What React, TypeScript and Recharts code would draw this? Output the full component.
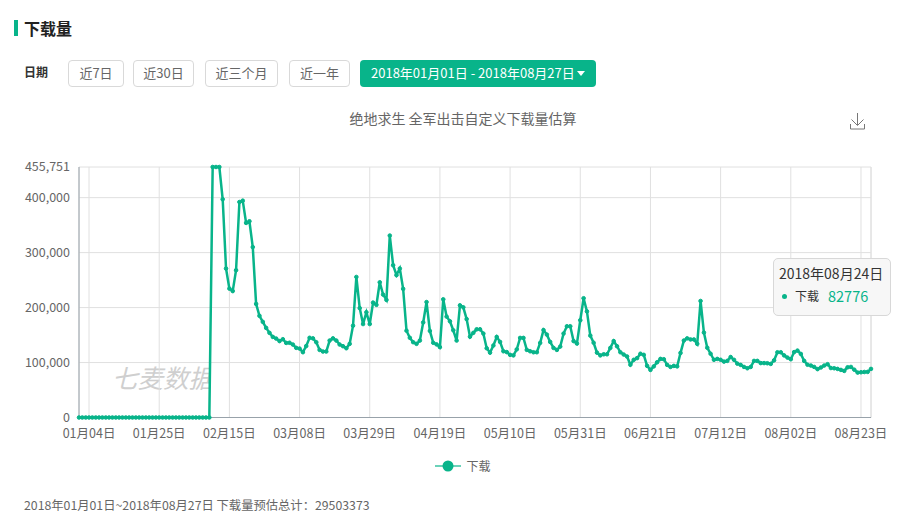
import React from "react";
import { LineChart, Line, XAxis, YAxis, CartesianGrid, Tooltip, Legend, ReferenceLine } from "recharts";

const GREEN = "#08b48a";
const FONT = '"Noto Sans CJK SC", "Noto Sans", sans-serif';

const MONTH_DAYS = [31, 28, 31, 30, 31, 30, 31, 26];

const downloads = [
  0, 0, 0, 0, 0, 0, 0, 0, 0, 0,
  0, 0, 0, 0, 0, 0, 0, 0, 0, 0,
  0, 0, 0, 0, 0, 0, 0, 0, 0, 0,
  0, 0, 0, 0, 0, 0, 0, 0, 0, 0,
  455751, 455751, 455751, 397000, 271000, 234500, 230000, 268000, 392000, 394500,
  354000, 357000, 310000, 206600, 185000, 174000, 163000, 154000, 146600, 143600,
  139000, 142400, 135700, 136000, 132700, 126700, 125400, 118800, 130000, 145000,
  144000, 137000, 123000, 120000, 120000, 140000, 144000, 140000, 132700, 129700,
  126000, 134000, 167000, 255700, 199000, 170000, 191500, 170000, 209000, 205000,
  246000, 223600, 214000, 331000, 277000, 259000, 271000, 234000, 158000, 145000,
  137000, 134000, 140000, 173000, 210000, 157500, 136000, 133000, 128000, 215000,
  183600, 175000, 158700, 140000, 204000, 200500, 179000, 147000, 154000, 160500,
  160500, 152700, 126000, 118000, 131000, 146600, 137500, 120500, 119000, 114000,
  113000, 124000, 144800, 144800, 123000, 120500, 118700, 118700, 135700, 159000,
  150800, 137500, 126600, 123000, 129000, 152700, 166000, 166000, 139000, 134500,
  177000, 217000, 193000, 149000, 136000, 118000, 113000, 115000, 115000, 126600,
  139000, 129600, 118700, 114500, 111000, 96000, 105000, 108000, 116000, 114000,
  94000, 86600, 93000, 100500, 106600, 106000, 95700, 92000, 93900, 93000,
  117500, 140000, 144000, 142000, 142000, 134000, 212000, 154500, 127000, 116000,
  105000, 106600, 105000, 101700, 103000, 110000, 105000, 98000, 95700, 92000,
  89600, 92000, 103000, 103000, 99000, 99000, 98700, 97500, 104000, 118700,
  118700, 113000, 109000, 106000, 119000, 121700, 115700, 103000, 96000, 94500,
  92000, 88000, 91000, 94500, 97000, 90000, 89600, 88400, 86600, 84800,
  91400, 92000, 87000, 81700, 82300, 82776, 83000, 88400,
];

const xTicks = [
  "01月04日", "01月25日", "02月15日", "03月08日", "03月29日", "04月19日",
  "05月10日", "05月31日", "06月21日", "07月12日", "08月02日", "08月23日",
];
const yTicks = [0, 100000, 200000, 300000, 400000, 455751];

const rangeButtons = ["近7日", "近30日", "近三个月", "近一年"];
const buttonLefts = [68, 133, 205, 289];
const buttonWidths = [56, 61, 73, 61];

const dates = MONTH_DAYS.flatMap((len, m) =>
  Array.from({ length: len }, (_, d) => {
    const mm = String(m + 1).padStart(2, "0");
    const dd = String(d + 1).padStart(2, "0");
    return `${mm}月${dd}日`;
  })
);

const chartData = downloads.map((value, i) => ({ date: dates[i], value }));

function TipContent({ payload, label }: any) {
  if (!payload || !payload.length) return null;
  return (
    <div
      style={{
        boxSizing: "border-box",
        width: 118,
        height: 58,
        background: "#f7f7f7",
        border: "1px solid #d8d8d8",
        borderRadius: 5,
        padding: "4px 0 0 5px",
        fontFamily: FONT,
        color: "#333",
        whiteSpace: "nowrap",
      }}
    >
      <div style={{ fontSize: 14, lineHeight: "20px" }}>2018年{label}</div>
      <div style={{ display: "flex", alignItems: "center", marginTop: 3, lineHeight: "20px" }}>
        <span style={{ width: 5, height: 5, borderRadius: 3, background: GREEN, margin: "0 8px 0 3px" }} />
        <span style={{ fontSize: 12, marginRight: 9 }}>下载</span>
        <span style={{ fontSize: 14.5, color: GREEN }}>{payload[0].value}</span>
      </div>
    </div>
  );
}

function LegendContent() {
  return (
    <div style={{ display: "flex", justifyContent: "center", alignItems: "center", fontFamily: FONT, fontSize: 12, color: "#666" }}>
      <svg width={26} height={12} style={{ marginRight: 5 }}>
        <line x1={0} y1={6} x2={26} y2={6} stroke={GREEN} strokeOpacity={0.6} strokeWidth={2} />
        <circle cx={13} cy={6} r={5.5} fill={GREEN} />
      </svg>
      下载
    </div>
  );
}

export default function App() {
  return (
    <div style={{ position: "absolute", left: 0, top: 0, width: 921, height: 515, background: "#fff", overflow: "hidden", fontFamily: FONT }}>
      <div style={{ position: "absolute", left: 14, top: 20, width: 4, height: 16, background: GREEN }} />
      <div style={{ position: "absolute", left: 24, top: 17, fontSize: 16, lineHeight: "22px", fontWeight: 700, color: "#222" }}>下载量</div>
      <div style={{ position: "absolute", left: 24, top: 64, fontSize: 12, lineHeight: "16px", fontWeight: 700, color: "#333" }}>日期</div>

      {rangeButtons.map((text, i) => (
        <div
          key={text}
          style={{
            position: "absolute",
            left: buttonLefts[i],
            top: 60,
            width: buttonWidths[i],
            height: 27,
            boxSizing: "border-box",
            border: "1px solid #d9d9d9",
            borderRadius: 4,
            textAlign: "center",
            fontSize: 13,
            lineHeight: "24px",
            color: "#666",
          }}
        >
          {text}
        </div>
      ))}
      <div
        style={{
          position: "absolute",
          left: 360,
          top: 60,
          width: 236,
          height: 27,
          borderRadius: 4,
          background: GREEN,
          color: "#fff",
          fontSize: 13,
          lineHeight: "26px",
          textIndent: 11,
          whiteSpace: "nowrap",
        }}
      >
        2018年01月01日 - 2018年08月27日
        <span
          style={{
            position: "absolute",
            left: 217,
            top: 11,
            width: 0,
            height: 0,
            borderLeft: "4.5px solid transparent",
            borderRight: "4.5px solid transparent",
            borderTop: "5px solid #fff",
          }}
        />
      </div>

      <div style={{ position: "absolute", left: 0, width: 926, top: 108, textAlign: "center", fontSize: 14, lineHeight: "20px", color: "#666" }}>
        绝地求生 全军出击自定义下载量估算
      </div>

      <svg style={{ position: "absolute", left: 850, top: 113 }} width={15} height={17}>
        <path d="M7.5 0V12M1.5 6.5L7.5 12.5L13.5 6.5M0.5 11V16H14.5V11" fill="none" stroke="#777" strokeWidth={1} />
      </svg>

      <div
        style={{
          position: "absolute",
          left: 112,
          top: 361,
          width: 98,
          height: 34,
          overflow: "hidden",
          whiteSpace: "nowrap",
          fontSize: 25.5,
          lineHeight: "32px",
          fontStyle: "italic",
          color: "#cfcfcf",
        }}
      >
        七麦数据
      </div>

      <div style={{ position: "absolute", left: 0, top: 0 }}>
        <LineChart
          width={921}
          height={515}
          data={chartData}
          margin={{ top: 167, right: 50, bottom: 50.5, left: 0 }}
        >
          <CartesianGrid stroke="#e0e0e0" strokeWidth={1} />
          <XAxis
            dataKey="date"
            ticks={xTicks}
            interval={0}
            tickLine={false}
            axisLine={{ stroke: "#98a2aa" }}
            tick={{ fontSize: 12.5, fill: "#666", fontFamily: FONT }}
            tickMargin={6}
          />
          <YAxis
            width={79}
            domain={[0, 455751]}
            ticks={yTicks}
            interval={0}
            tickLine={false}
            axisLine={{ stroke: "#98a2aa" }}
            tick={{ fontSize: 12.5, fill: "#666", fontFamily: FONT }}
            tickMargin={3}
            tickFormatter={(v: number) => v.toLocaleString("en-US")}
          />
          <ReferenceLine x={dates[237]} stroke="#e0e0e0" />
          <Tooltip
            active
            defaultIndex={235}
            cursor={false}
            isAnimationActive={false}
            position={{ x: 773, y: 258 }}
            content={<TipContent />}
          />
          <Legend
            content={<LegendContent />}
            wrapperStyle={{ position: "absolute", left: 0, width: 926, top: 457 }}
          />
          <Line
            dataKey="value"
            name="下载"
            stroke={GREEN}
            strokeWidth={2.5}
            isAnimationActive={false}
            dot={{ r: 1.8, fill: GREEN, stroke: GREEN, strokeWidth: 1 }}
            activeDot={false}
          />
        </LineChart>
      </div>

      <div style={{ position: "absolute", left: 24, top: 497, fontSize: 12.3, lineHeight: "17px", color: "#666" }}>
        2018年01月01日~2018年08月27日 下载量预估总计：29503373
      </div>
    </div>
  );
}
